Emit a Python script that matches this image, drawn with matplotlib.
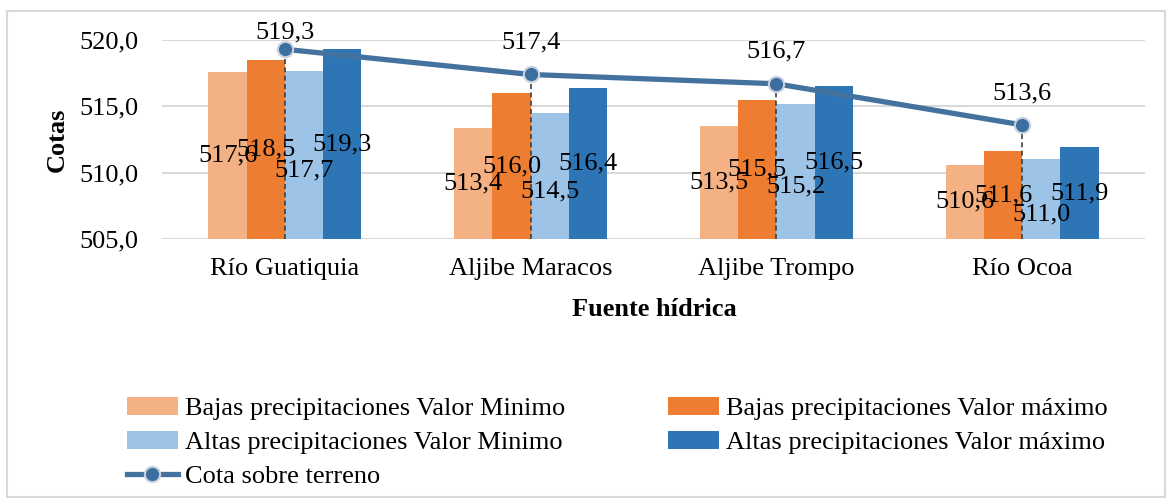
import matplotlib
matplotlib.use('Agg')
import matplotlib.pyplot as plt
import numpy as np
from matplotlib.patches import Rectangle

# Data
fuentes = ['Río Guatiquia', 'Aljibe Maracos', 'Aljibe Trompo', 'Río Ocoa']
bajas_min = [517.6, 513.4, 513.5, 510.6]
bajas_max = [518.5, 516.0, 515.5, 511.6]
altas_min = [517.7, 514.5, 515.2, 511.0]
altas_max = [519.3, 516.4, 516.5, 511.9]
cota_terreno = [519.3, 517.4, 516.7, 513.6]
y_ticks = [505, 510, 515, 520]

series_names = ['Bajas precipitaciones Valor Minimo',
                'Bajas precipitaciones Valor máximo',
                'Altas precipitaciones Valor Minimo',
                'Altas precipitaciones Valor máximo']
line_name = 'Cota sobre terreno'
colors = ['#F4B183', '#ED7D31', '#9DC3E6', '#2E75B6']
# vertical nudge (points) of the bar labels, per series, as Excel placed them
label_nudge = [0, 0, -11, 0]

plt.rcParams['font.family'] = ['Liberation Serif', 'DejaVu Serif']
FS = 19


def fmt(v):
    return f'{v:.1f}'.replace('.', ',')


fig = plt.figure(figsize=(11.69, 5.0), dpi=100)
ax = fig.add_axes([0.1386, 0.522, 0.8409, 0.398])

base = y_ticks[0]
x = np.arange(len(fuentes))
w = 0.1557

bars = []
for i, (vals, name, color) in enumerate(zip([bajas_min, bajas_max, altas_min, altas_max],
                                            series_names, colors)):
    xpos = x + (i - 1.5) * w
    vals = np.array(vals)
    b = ax.bar(xpos, vals - base, w, bottom=base, color=color, label=name, zorder=2)
    bars.append(b)
    for xp, v in zip(xpos, vals):
        ax.annotate(fmt(v), (xp, (base + v) / 2), xytext=(0, label_nudge[i]),
                    textcoords='offset points', ha='center', va='center',
                    fontsize=FS, zorder=6)

# drop lines from the line markers down to the axis
ax.vlines(x, base, cota_terreno, colors='#404040', linestyles=(0, (3, 2)),
          lw=1.2, zorder=3)

line, = ax.plot(x, cota_terreno, color='#43729E', lw=3.8, marker='o', ms=11,
                mfc='#3C6FA0', mec='#C8D2DF', mew=1.5, zorder=4,
                clip_on=False, label=line_name)
for xi, v in zip(x, cota_terreno):
    ax.text(xi, min(v + 2.4, 520.55), fmt(v), ha='center', va='center',
            fontsize=FS, zorder=6, clip_on=False)

ax.set_xlim(-0.5, len(fuentes) - 0.5)
ax.set_ylim(505, 520)
ax.set_yticks(y_ticks)
ax.set_yticklabels([fmt(t) for t in y_ticks], fontsize=FS)
ax.set_xticks(x)
ax.set_xticklabels(fuentes, fontsize=FS)
ax.tick_params(axis='both', length=0)
ax.tick_params(axis='y', pad=17)
ax.tick_params(axis='x', pad=14)
ax.yaxis.grid(True, color='#D9D9D9', lw=1.5)
ax.set_axisbelow(True)
for s in ax.spines.values():
    s.set_visible(False)

fig.text(57 / 1169, 1 - 140 / 500, 'Cotas', rotation=90, ha='center', va='center',
         fontsize=FS, fontweight='bold')
fig.text(0.56, 1 - 310 / 500, 'Fuente hídrica', ha='center', va='center',
         fontsize=FS, fontweight='bold')

handles = [bars[0], bars[2], line, bars[1], bars[3]]
labels = [series_names[0], series_names[2], line_name, series_names[1], series_names[3]]
fig.legend(handles, labels, ncol=2, loc='upper left', bbox_to_anchor=(0.1086, 0.206),
           frameon=False, fontsize=FS, borderpad=0, handlelength=1.93,
           handletextpad=0.27, columnspacing=3.9, labelspacing=0.39,
           borderaxespad=0)

# outer chart frame
fig.add_artist(Rectangle((0.006, 0.006), 0.991, 0.972, transform=fig.transFigure,
                         fill=False, edgecolor='#D9D9D9', lw=1.5))

fig.savefig('out.png', dpi=100)
